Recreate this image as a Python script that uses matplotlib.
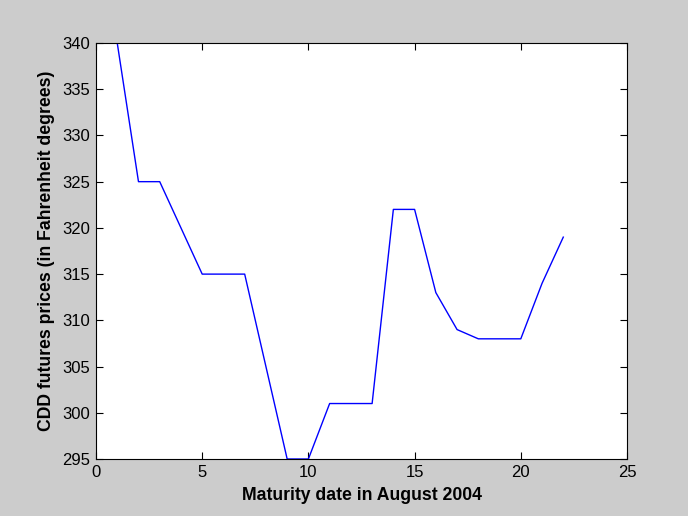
import matplotlib
matplotlib.use("Agg")
import matplotlib.pyplot as plt

days = [1, 2, 3, 4, 5, 6, 7, 8, 9, 10, 11, 12, 13, 14, 15, 16, 17, 18, 19, 20, 21, 22]
prices = [340, 325, 325, 320, 315, 315, 315, 305, 295, 295, 301, 301, 301, 322, 322, 313, 309, 308, 308, 308, 314, 319]
xticks = [0, 5, 10, 15, 20, 25]
yticks = [295, 300, 305, 310, 315, 320, 325, 330, 335, 340]

plt.rcParams['font.family'] = ['Liberation Sans', 'DejaVu Sans']
fig = plt.figure(figsize=(6.88, 5.16), dpi=100, facecolor='#cccccc')
ax = fig.add_axes([96/688, 1-459/516, (627-96)/688, (459-43)/516])
ax.plot(days, prices, color='#0000ff', lw=1.0)
ax.set_xlim(0, 25)
ax.set_ylim(295, 340)
ax.set_xticks(xticks)
ax.set_yticks(yticks)
ax.tick_params(direction='in', top=True, right=True, labelsize=12, length=5, width=0.8, colors='black', pad=4)
for s in ax.spines.values():
    s.set_linewidth(0.8)
ax.set_xlabel('Maturity date in August 2004', fontsize=12.7, fontweight='bold', labelpad=5)
ax.set_ylabel('CDD futures prices (in Fahrenheit degrees)', fontsize=12.7, fontweight='bold', labelpad=5)
fig.savefig('out.png', dpi=100, facecolor=fig.get_facecolor())
